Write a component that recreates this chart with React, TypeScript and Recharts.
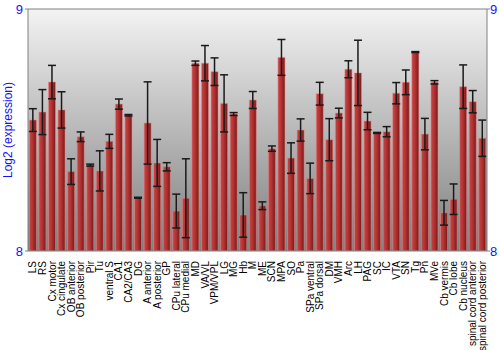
import { BarChart, Bar, XAxis, YAxis, CartesianGrid, ErrorBar, ReferenceLine, Label } from 'recharts'

// brain regions, left to right
const REGIONS = [
	'LS', 'RS', 'Cx motor', 'Cx cingulate', 'OB anterior', 'OB posterior', 'Pir', 'Tu',
	'ventral S', 'CA1', 'CA2/CA3', 'DG', 'A anterior', 'A posterior', 'GP', 'CPu lateral',
	'CPu medial', 'MD', 'VA/VL', 'VPM/VPL', 'LG', 'MG', 'Hb', 'M', 'ME', 'SCN', 'MPA', 'SO',
	'Pa', 'SPa ventral', 'SPa dorsal', 'DM', 'VMH', 'Arc', 'LH', 'PAG', 'SC', 'IC', 'VTA',
	'SN', 'Tg', 'Pn', 'MVe', 'Cb vermis', 'Cb lobe', 'Cb nucleus', 'spinal cord anterior',
	'spinal cord posterior',
]

// log2 expression
const EXPR = [
	8.541, 8.574, 8.698, 8.583, 8.328, 8.472, 8.355, 8.331,
	8.453, 8.607, 8.561, 8.220, 8.529, 8.364, 8.348, 8.165,
	8.218, 8.776, 8.776, 8.741, 8.610, 8.566, 8.149, 8.624, 8.187, 8.423, 8.800, 8.384,
	8.500, 8.300, 8.650, 8.460, 8.570, 8.751, 8.736, 8.537, 8.488, 8.493, 8.652,
	8.697, 8.822, 8.483, 8.697, 8.158, 8.214, 8.679, 8.617,
	8.466,
]

// half-width of the error bars
const ERR = [
	0.047, 0.093, 0.069, 0.075, 0.053, 0.020, 0.004, 0.083,
	0.029, 0.021, 0.003, 0.002, 0.170, 0.097, 0.017, 0.070,
	0.163, 0.009, 0.073, 0.057, 0.118, 0.006, 0.092, 0.035, 0.016, 0.011, 0.074, 0.063,
	0.046, 0.063, 0.047, 0.087, 0.020, 0.035, 0.135, 0.036, 0.002, 0.021, 0.044,
	0.051, 0.002, 0.065, 0.007, 0.051, 0.063, 0.090, 0.046,
	0.075,
]

const data = REGIONS.map((name, i) => ({ name, value: EXPR[i], err: ERR[i] }))

const BLUE = '#1414f0'
const FONT = '"Liberation Sans", Arial, sans-serif'

function RegionTick({ x, y, payload }: any) {
	return (
		<g transform={`translate(${x},${y + 2})`}>
			<text
				transform='rotate(-90)'
				textAnchor='end'
				dy='0.36em'
				fontSize={10}
				fontFamily={FONT}
				fill='#000'
			>
				{payload.value}
			</text>
		</g>
	)
}

export default function App() {
	return (
		<div style={{ position: 'absolute', left: 0, top: 0, background: '#fff' }}>
			<BarChart
				width={500}
				height={350}
				data={data}
				margin={{ top: 9, right: 0, left: 0, bottom: 0 }}
				barCategoryGap='14%'
			>
				<defs>
					<linearGradient id='bg' x1='0' y1='0' x2='0' y2='1'>
						<stop offset='0%' stopColor='#f3f3f3' />
						<stop offset='100%' stopColor='#7e7e7e' />
					</linearGradient>
					<linearGradient id='bar' x1='0' y1='0' x2='1' y2='0'>
						<stop offset='0%' stopColor='#c94444' />
						<stop offset='45%' stopColor='#b33333' />
						<stop offset='100%' stopColor='#7a1818' />
					</linearGradient>
				</defs>
				<CartesianGrid fill='url(#bg)' horizontal={false} vertical={false} />
				<XAxis
					dataKey='name'
					interval={0}
					height={99}
					tick={<RegionTick />}
					tickLine={false}
					axisLine={{ stroke: '#808080' }}
				/>
				<YAxis
					yAxisId='l'
					domain={[8, 9]}
					ticks={[8, 9]}
					width={28}
					allowDataOverflow
					tick={{ fill: BLUE, fontSize: 13, fontFamily: FONT }}
					tickSize={3}
					tickLine={{ stroke: '#808080' }}
					axisLine={{ stroke: '#808080' }}
				>
					<Label
						value='Log2 (expression)'
						angle={-90}
						position='insideLeft'
						offset={8}
						style={{ fill: BLUE, fontSize: 12, fontFamily: FONT, textAnchor: 'middle' }}
					/>
				</YAxis>
				<YAxis
					yAxisId='r'
					orientation='right'
					domain={[8, 9]}
					ticks={[8, 9]}
					width={13}
					allowDataOverflow
					tick={{ fill: BLUE, fontSize: 13, fontFamily: FONT }}
					tickSize={3}
					tickMargin={0}
					tickLine={{ stroke: '#808080' }}
					axisLine={{ stroke: '#808080' }}
				/>
				<ReferenceLine yAxisId='l' y={9} stroke='#808080' />
				<Bar
					yAxisId='l'
					dataKey='value'
					fill='url(#bar)'
					stroke='rgba(225,140,140,0.55)'
					strokeWidth={1}
					isAnimationActive={false}
				>
					<ErrorBar dataKey='err' width={4} stroke='#1a1a1a' strokeWidth={1.5} />
				</Bar>
			</BarChart>
		</div>
	)
}
